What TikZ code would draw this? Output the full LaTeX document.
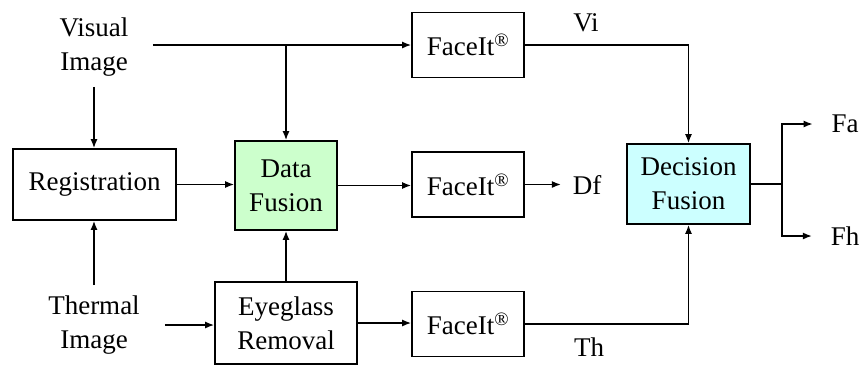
\documentclass[tikz,border=0pt]{standalone}
\usepackage{fontspec}
\setmainfont{Liberation Serif}
\usetikzlibrary{arrows.meta}

\begin{document}
\begin{tikzpicture}[->, >={Latex[length=9pt,width=7pt]}, x=1pt, y=-1pt, line width=1.6pt,
    main node/.style={rectangle, draw, minimum width=112pt, minimum height=65pt, align=center},
    in node/.style={align=center, minimum height=78pt},
    out node/.style={inner sep=0pt}]
        \tikzstyle{every node}=[font=\fontsize{27}{34}\selectfont]
        \useasboundingbox (0,0) rectangle (862,365);

          \node[in node, minimum width=116pt] (1) at (94,47) {Visual\\Image};
          \node[main node, minimum width=163pt, minimum height=71pt] (2) at (94.5,184.5) {Registration};
          \node[main node, fill={rgb,255:red,204;green,255;blue,204}, minimum width=102pt, minimum height=89pt] (3) at (286,185.5) {Data\\Fusion};
          \node[in node, minimum width=140pt] (4) at (94,325) {Thermal\\Image};
          \node[main node, minimum width=142pt, minimum height=82pt] (5) at (286,323) {Eyeglass\\Removal};
          \node[main node] (6) at (468,45) {FaceIt\textsuperscript{\textregistered}};
          \node[main node] (7) at (468,184.5) {FaceIt\textsuperscript{\textregistered}};
          \node[main node] (8) at (468,324) {FaceIt\textsuperscript{\textregistered}};
          \node[main node, fill={rgb,255:red,204;green,255;blue,255}, minimum width=123pt, minimum height=80pt] (9) at (688.5,184) {Decision\\Fusion};

          \node[out node] (10) at (586,23) {Vi};
          \node[out node] (11) at (587,185) {Df};
          \node[out node] (12) at (589,347) {Th};
          \node[out node] (13) at (845,124) {Fa};
          \node[out node] (14) at (845,236) {Fh};
          \coordinate (s) at (782,184);

          \draw (1.east |- 6.west) -- (6.west);
          \draw (3.north |- 6.west) -- (3.north);
          \draw (1.south) -- (1.south |- 2.north);
          \draw (2.east) -- (2.east -| 3.west);
          \draw (4.north) -- (4.north |- 2.south);
          \draw (4.east) -- (4.east -| 5.west);
          \draw (5.north) -- (3.south);
          \draw (3.east) -- (3.east -| 7.west);
          \draw (5.east) -- (5.east -| 8.west);
          \draw[shorten >=11pt] (7.east) -- (7.east -| 11.west);
          \draw (6.east) -| (9.north);
          \draw (8.east) -| (9.south);
          \draw[-] (9.east) -- (s);
          \draw[shorten >=18pt] (s) |- (13.west);
          \draw[shorten >=18pt] (s) |- (14.west);

        \end{tikzpicture}
\end{document}
